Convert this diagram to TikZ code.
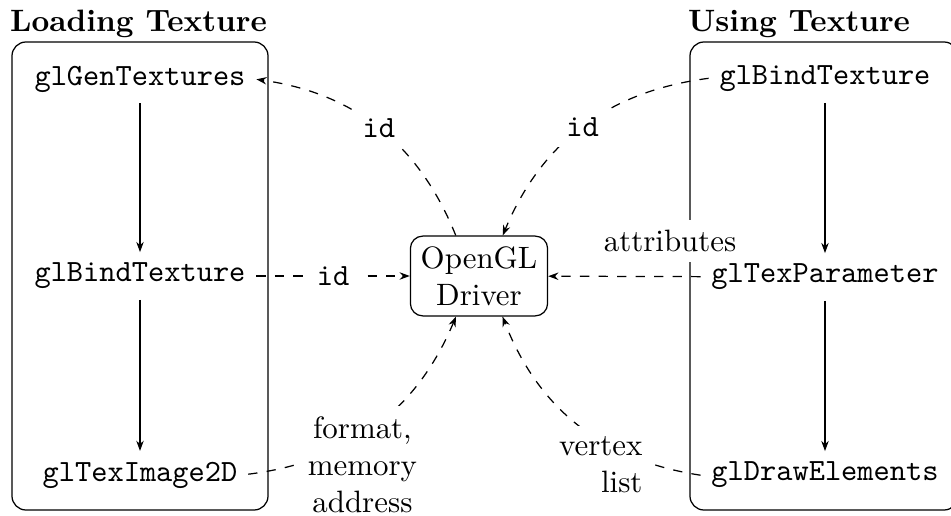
\documentclass[tikz,border=0pt]{standalone}
\usetikzlibrary{arrows.meta,fit}
\begin{document}
\begin{tikzpicture}[x=0.3236pt, y=-0.3236pt,
  panel/.style={draw, rounded corners=4.5pt, inner sep=0pt},
  title/.style={font=\bfseries, inner sep=0pt, anchor=base west},
  call/.style={font=\ttfamily},
  driver/.style={draw, rounded corners=4pt, align=center},
  tip/.style={-{Stealth[length=3.3pt,width=2.4pt]}},
  data/.style={tip, dashed},
  tag/.style={fill=white, align=center}]
\useasboundingbox (0,0) rectangle (951,516);

% the two groups of calls
\node[panel, fit={(12,42)(268,510)}] (load) {};
\node[panel, fit={(690,42)(958,510)}] (use) {};
\node[title] (loadT) at (9.5,31) {Loading Texture};
\node[title] (useT) at (687.5,31) {Using Texture};

% API calls
\node[call] (gen)   at (140,79)  {glGenTextures};
\node[call] (bindL) at (140,276) {glBindTexture};
\node[call] (img)   at (140,475) {glTexImage2D};
\node[call] (bindR) at (825,79)  {glBindTexture};
\node[call] (param) at (825,277) {glTexParameter};
\node[call] (elem)  at (825,475) {glDrawElements};

% the driver in the middle
\node[driver] (drv) at (479,276) {OpenGL\\Driver};

% order of the calls
\draw[tip] (gen) -- (bindL);
\draw[tip] (bindL) -- (img);
\draw[tip] (bindR) -- (param);
\draw[tip] (param) -- (elem);

% data exchanged with the driver
\draw[data] (drv) to[bend right=30] node[tag] {\texttt{id}} (gen);
\draw[data] (bindR) to[bend right=30] node[tag] {\texttt{id}} (drv);
\draw[data] (bindL) -- node[tag] {\texttt{id}} (drv);
\draw[data] (param) -- node[tag, pos=0.2, above=4.5pt] {attributes} (drv);
\draw[data] (img) to[bend right=30]
  node[tag, pos=0.17, anchor=west] {format,\\memory\\address} (drv);
\draw[data] (elem) to[bend left=30]
  node[tag, align=right, pos=0.17, anchor=east] {vertex\\list} (drv);
\end{tikzpicture}
\end{document}
